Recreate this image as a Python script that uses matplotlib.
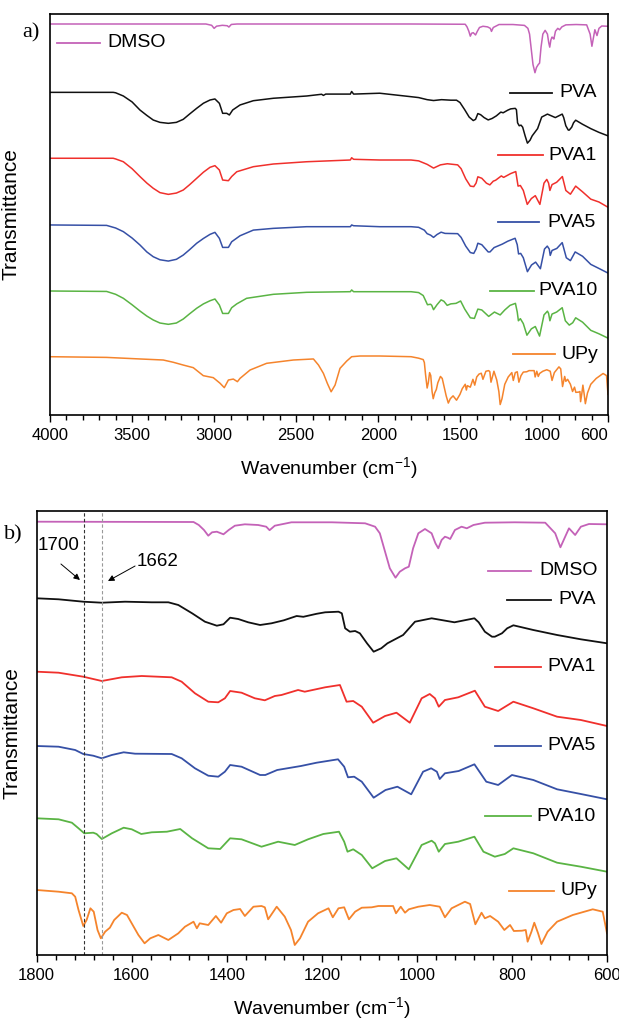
import numpy as np
import matplotlib.pyplot as plt
from matplotlib.ticker import MultipleLocator

plt.rcParams['font.family'] = ['Liberation Sans', 'DejaVu Sans']
plt.rcParams['mathtext.default'] = 'regular'

# FTIR spectra: wavenumber (cm-1) and relative transmittance (a.u.)
dmso_wn = [4000, 3050, 3015, 3000, 2985, 2950, 2920, 2910, 2895, 2860,
           1800, 1470, 1459, 1448, 1439, 1431, 1421, 1407, 1396, 1383,
           1362, 1334, 1317, 1310, 1299, 1264, 1179, 1109, 1088, 1078,
           1067, 1057, 1045, 1036, 1025, 1017, 1008, 997, 983, 969,
           961, 955, 948, 941, 935, 930, 920, 906, 895, 881,
           857, 794, 730, 709, 698, 688, 680, 667, 655, 638, 600]
dmso_t = [0, 0, -1.5, -5, -2.5, -1.5, -2, -3.5, -0.5, 0,
          0, -0.3, -3.3, -8.3, -14, -10.6, -10, -12.6, -8.3, -4,
          -2.6, -3.3, -5, -8.5, -4, -0.6, -0.6, -1.6, -5, -11.6,
          -30, -46.6, -56, -50, -46.6, -45, -26.6, -11.6, -7.3, -11.6,
          -21.6, -26.6, -18.3, -15, -16, -17.3, -8.3, -5, -6.6, -3.3,
          -1, -0.6, -1, -11.6, -25.6, -15, -6.6, -13.3, -5, -2.3, -2.6]

pva_wn = [4000, 3615, 3600, 3553, 3500, 3452, 3410, 3371, 3330, 3279,
          3230, 3188, 3150, 3106, 3065, 3025, 2995,
          2968, 2948, 2923, 2907, 2887, 2842, 2761, 2639, 2436, 2345,
          2334, 2320, 2170, 2162, 2150, 1991, 1800, 1754, 1702, 1663,
          1614, 1558, 1523, 1502, 1473, 1446, 1421, 1407, 1393, 1376,
          1355, 1330, 1306, 1280, 1253, 1239, 1211, 1193, 1165, 1158,
          1151, 1141, 1130, 1120, 1105, 1091, 1075, 1062, 1029, 1004,
          969, 921, 879, 870, 857, 842, 836, 821, 810, 797,
          755, 705, 655, 600]
pva_t = [5, 5, 4.5, 0.8, -6, -15.3, -21.5, -26.8, -29.5, -30.6,
         -29.5, -26, -20, -13.3, -7.5, -3.8, -2.6,
         -7.6, -19.1, -19.1, -21, -15.3, -9.5, -4.6, -1.8, 0.8, 2.8,
         1.5, 3, 3, 6, 3, 4, 0, -1, -3.4, -4.4,
         -3.4, -4, -4, -6.7, -15, -23.4, -27.4, -26, -19.4, -20.7,
         -24, -26.7, -25, -22, -17.7, -18.5, -15.5, -14, -13.4, -15,
         -30, -33.4, -32.7, -35, -45, -53.4, -50, -45, -36.7, -23.4,
         -20, -24, -20, -24, -33.4, -38.4, -38.4, -35, -30, -27,
         -31.7, -36.7, -41, -45]

pva1_wn = [4000, 3615, 3600, 3553, 3500, 3452, 3410, 3371, 3330, 3279,
           3230, 3188, 3150, 3106, 3065, 3025, 2995,
           2968, 2948, 2913, 2893, 2862, 2761, 2639, 2436, 2170, 2162,
           2150, 1991, 1800, 1754, 1702, 1663, 1621, 1579, 1516, 1495,
           1467, 1439, 1418, 1404, 1393, 1369, 1341, 1320, 1299, 1285,
           1250, 1236, 1193, 1162, 1148, 1134, 1116, 1092, 1067, 1043,
           1015, 990, 973, 962, 954, 941, 913, 878, 857, 829,
           797, 755, 705, 655, 600]
pva1_t = [2, 2, 1.2, -2, -10, -19, -26.5, -32.5, -37.5, -39.5,
          -38, -34.5, -28.5, -21, -14, -8.4, -6.5,
          -11.5, -23, -23.8, -19, -13.5, -7.7, -4.6, -2, 0, 2.6,
          0.8, 0, 0, -1, -5, -9.3, -5.6, -4.3, -5.6, -10,
          -21.6, -30, -30.6, -26.6, -19.3, -21, -26.6, -28.6, -24.3, -23.3,
          -18.3, -20, -15.6, -13.3, -30, -29.3, -35, -51, -44.3, -41,
          -51, -26.6, -22.3, -26.6, -35, -28.3, -25.6, -19, -35, -39.3,
          -30, -36.6, -45, -48.3, -54.3]

pva5_wn = [4000, 3655, 3600, 3553, 3500, 3452, 3410, 3371, 3330, 3279,
           3230, 3188, 3150, 3106, 3065, 3025, 2995,
           2968, 2948, 2913, 2893, 2842, 2761, 2639, 2436, 2170, 2162,
           2150, 1991, 1800, 1754, 1719, 1702, 1681, 1663, 1642, 1617,
           1593, 1516, 1495, 1467, 1439, 1418, 1404, 1393, 1369, 1330,
           1319, 1294, 1244, 1211, 1166, 1153, 1145, 1132, 1116, 1091,
           1066, 1041, 1012, 987, 970, 958, 952, 941, 912, 879,
           854, 829, 800, 755, 705, 655, 600]
pva5_t = [2, 1.5, -1.5, -5.7, -13, -21, -29, -34.5, -38, -39.5,
          -37.5, -32.6, -26.5, -19, -13.5, -8.8, -6.5,
          -13.4, -23.8, -23.8, -17.3, -10.4, -3.9, -1.9, 0, 0, 2,
          1.1, 0, 0, -0.7, -4, -8, -9.7, -12.3, -9, -6.3,
          -7.7, -8, -12.3, -22.3, -29.7, -30.7, -25.7, -19, -20.7, -29,
          -29, -24, -20, -16.7, -13.3, -20.7, -31.3, -30.7, -35.7, -51.7,
          -44, -40.7, -48.3, -25.7, -22.3, -25.7, -33, -27.3, -25, -18.3,
          -35.7, -39, -29, -34, -43.3, -48, -53.3]

pva10_wn = [4000, 3655, 3600, 3553, 3500, 3452, 3410, 3371, 3330, 3279,
            3230, 3188, 3150, 3106, 3065, 3025, 2995,
            2968, 2948, 2913, 2893, 2862, 2802, 2639, 2436, 2170, 2162,
            2150, 1991, 1800, 1754, 1726, 1712, 1700, 1681, 1674, 1663,
            1642, 1617, 1600, 1580, 1558, 1526, 1498, 1473, 1439, 1414,
            1393, 1369, 1327, 1299, 1292, 1257, 1229, 1197, 1164, 1153,
            1146, 1134, 1116, 1094, 1067, 1043, 1017, 990, 969, 962,
            954, 941, 913, 879, 860, 836, 815, 797, 755, 705,
            655, 600]
pva10_t = [0.8, 0.3, -3, -7.6, -15, -22.2, -28, -32.5, -36, -37.5,
           -36, -31.4, -25.5, -19, -14, -10.4, -8.4,
           -15.3, -25, -25, -18.4, -14, -7.6, -3, -0.7, 0, 2,
           0, 0, 0, -1, -4.4, -10, -15, -14.4, -15.7, -20.7,
           -15, -9.4, -11, -15.7, -14, -13.4, -10.7, -20, -30, -30.7,
           -20, -21, -28.4, -24.4, -23.4, -26.7, -21, -15.7, -13.4, -23.4,
           -33.4, -31, -36.7, -50, -42.7, -40, -51, -26.7, -22.4, -25,
           -33.4, -25.7, -23.4, -18.4, -33.4, -38.4, -35.7, -30, -35, -44.4,
           -48.4, -53.4]

upy_wn = [4000, 3655, 3452, 3310, 3249, 3188, 3127, 3066, 3005, 2964,
          2938, 2913, 2883, 2858, 2842, 2781, 2680, 2517, 2395, 2364,
          2334, 2310, 2287, 2263, 2233, 2192, 2162, 2111, 1991, 1800,
          1754, 1726, 1719, 1712, 1702, 1695, 1687, 1680, 1672, 1665,
          1656, 1646, 1637, 1621, 1610, 1596, 1586, 1573, 1561, 1544,
          1523, 1502, 1488, 1470, 1463, 1457, 1439, 1423, 1412, 1400,
          1386, 1372, 1362, 1344, 1327, 1320, 1313, 1295, 1278, 1265,
          1257, 1246, 1229, 1208, 1186, 1177, 1165, 1153, 1143, 1130,
          1116, 1095, 1081, 1050, 1044, 1034, 1025, 1017, 997, 973,
          952, 941, 927, 899, 888, 877, 864, 857, 846, 829,
          816, 804, 796, 779, 771, 767, 759, 753, 745, 738,
          725, 705, 672, 630, 609, 600]
upy_t = [0, -0.8, -2.6, -3.8, -6.4, -9.6, -12.6, -21.8, -24.1, -30.5,
         -35.6, -26.8, -25.7, -28.7, -24.9, -15.3, -7.6, -3.8, -2.6, -9.6,
         -19.2, -30.7, -40.3, -32.6, -13.4, -5, 0, 0.8, 0.8, 0,
         -1.7, -3.3, -6.7, -20, -36, -30, -18.3, -21.7, -40, -48.3,
         -41.7, -37.7, -30, -22.7, -25, -36.7, -45, -53.3, -48.3, -45,
         -50, -43.3, -36.7, -31.7, -38.3, -33.3, -35, -26, -32.7, -23.3,
         -20, -19, -26, -16.7, -16, -17.3, -29.3, -16.7, -26.7, -40,
         -55, -48.3, -31.7, -23.3, -18.3, -27.3, -18.3, -17.3, -29.3, -21.7,
         -17.7, -17.3, -16, -16, -23.3, -16.7, -22.7, -19.3, -16.7, -15,
         -16.7, -27.3, -18.3, -11.7, -14, -34.3, -22.7, -28.3, -26, -31.7,
         -40, -35, -41, -40.7, -40, -51.7, -41.7, -32.7, -43.3, -54,
         -41.7, -31.7, -25, -19.3, -21.7, -43.3]

names = ["DMSO", "PVA", "PVA1", "PVA5", "PVA10", "UPy"]
spectra_wn = [dmso_wn, pva_wn, pva1_wn, pva5_wn, pva10_wn, upy_wn]
spectra_t = [dmso_t, pva_t, pva1_t, pva5_t, pva10_t, upy_t]
colors = ["#c462b8", "#111111", "#f0302c", "#3650a6", "#5ab444", "#f5842c"]

ticks_a = [4000, 3500, 3000, 2500, 2000, 1500, 1000, 600]

# stacking offsets for each panel
offset_a = [391, 318.3, 255, 188.3, 123.3, 58.3]
offset_b = [433.3, 356.7, 283.3, 209, 136.7, 65]
scale_a = 0.87

# legend placement in axes fractions: line start, line end, text x, y
legend_a = [(0.013, 0.090, 0.102, 0.928), (0.824, 0.900, 0.912, 0.804),
            (0.803, 0.884, 0.894, 0.648), (0.803, 0.876, 0.891, 0.481),
            (0.789, 0.867, 0.876, 0.310), (0.830, 0.905, 0.916, 0.152)]
legend_b = [(0.791, 0.867, 0.881, 0.865), (0.825, 0.902, 0.914, 0.800),
            (0.804, 0.884, 0.895, 0.649), (0.804, 0.884, 0.895, 0.471),
            (0.786, 0.867, 0.877, 0.313), (0.828, 0.907, 0.918, 0.145)]

fig = plt.figure(figsize=(6.19, 10.21), dpi=100)
ax_a = fig.add_axes([50 / 619, 1 - 415 / 1021, 558 / 619, 401 / 1021])
ax_b = fig.add_axes([36.7 / 619, 1 - 955 / 1021, 570.3 / 619, 444 / 1021])

for wn, t, oa, ob, c in zip(spectra_wn, spectra_t, offset_a, offset_b, colors):
    t = np.array(t)
    ax_a.plot(wn, oa + scale_a * t, color=c, lw=1.1)
    ax_b.plot(wn, ob + t, color=c, lw=1.3)

for ax, leg in ((ax_a, legend_a), (ax_b, legend_b)):
    for (x0, x1, xt, y), name, c in zip(leg, names, colors):
        ax.plot([x0, x1], [y, y], color=c, lw=1.3, transform=ax.transAxes)
        ax.text(xt, y, name, transform=ax.transAxes, fontsize=14,
                va='center', ha='left')

ax_a.set_xlim(4000, 600)
ax_a.set_ylim(0, 401)
ax_a.set_xticks(ticks_a)
ax_a.set_xticklabels([str(v) for v in ticks_a])
ax_a.get_xticklabels()[-1].set_horizontalalignment('right')
ax_a.xaxis.set_minor_locator(MultipleLocator(100))

ax_b.set_xlim(1800, 600)
ax_b.set_ylim(0, 444)
ax_b.xaxis.set_major_locator(MultipleLocator(200))
ax_b.xaxis.set_minor_locator(MultipleLocator(40))

# reference lines and marks in panel b
ax_b.axvline(1700, color='#333333', lw=0.8, ls=(0, (3, 2)))
ax_b.axvline(1662, color='#999999', lw=0.8, ls=(0, (3, 2)))
ax_b.text(1753, 410, "1700", fontsize=13.5, ha='center', va='center')
ax_b.text(1545, 393, "1662", fontsize=13.5, ha='center', va='center')
arrow = dict(arrowstyle='-|>', color='black', lw=0.7, mutation_scale=9,
             shrinkA=0, shrinkB=0)
ax_b.annotate('', xy=(1709, 375), xytext=(1749, 391), arrowprops=arrow)
ax_b.annotate('', xy=(1650, 374), xytext=(1593, 389), arrowprops=arrow)

for ax in (ax_a, ax_b):
    ax.set_yticks([])
    ax.tick_params(axis='x', which='major', direction='out', length=5,
                   width=1, labelsize=12, pad=4)
    ax.tick_params(axis='x', which='minor', direction='out', length=3.5, width=1)
    for s in ax.spines.values():
        s.set_linewidth(1.2)
    ax.set_xlabel("Wavenumber (cm$^{-1}$)", fontsize=14, labelpad=9)
    ax.set_ylabel("Transmittance", fontsize=15)

ax_a.yaxis.set_label_coords(-0.052, 0.5)
ax_b.yaxis.set_label_coords(-0.026, 0.5)

fig.text(30.6 / 619, 1 - 33 / 1021, "a)", family=['Liberation Serif'],
         fontsize=16, ha='center', va='center')
fig.text(13 / 619, 1 - 535 / 1021, "b)", family=['Liberation Serif'],
         fontsize=16, ha='center', va='center')

fig.savefig("out.png", dpi=100)
